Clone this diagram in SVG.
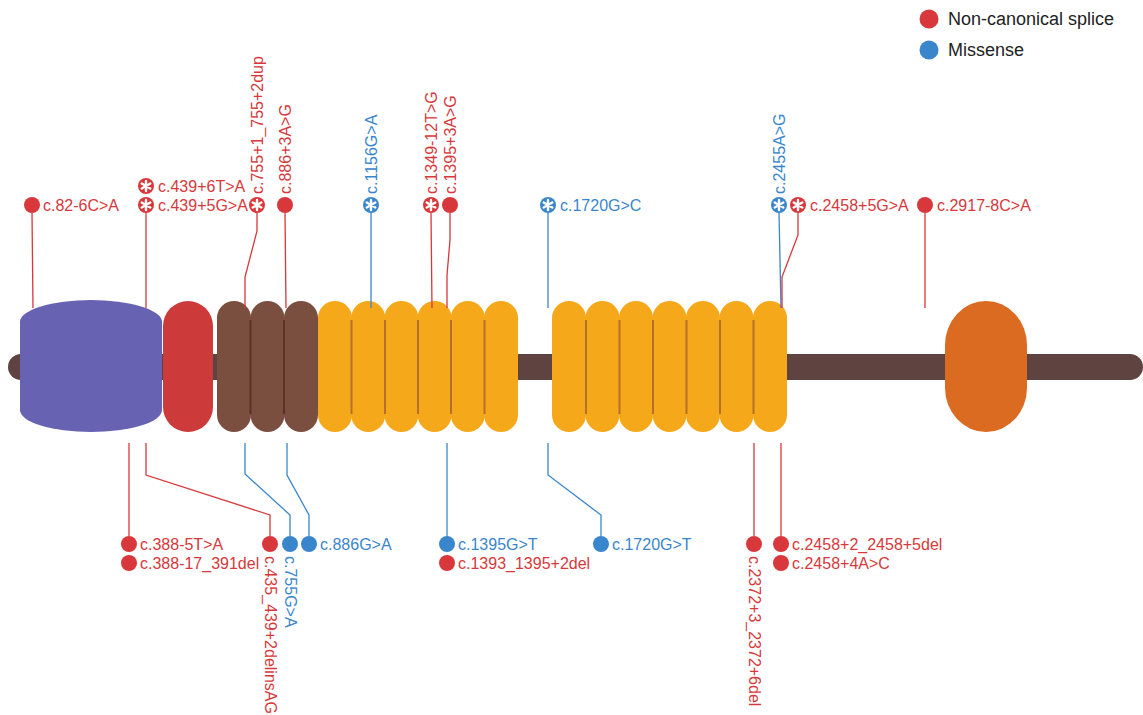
<svg xmlns="http://www.w3.org/2000/svg" xmlns:xlink="http://www.w3.org/1999/xlink" width="1143" height="715" viewBox="0 0 1143 715">
<style>
text{font-family:"Liberation Sans",Arial,sans-serif;font-size:16px}
.r{fill:#d8383b}.b{fill:#3a86cc}
.tr{fill:#d8383b}.tb{fill:#3a86cc}
.lr{stroke:#d8383b;stroke-width:1.3;fill:none}
.lb{stroke:#3a86cc;stroke-width:1.3;fill:none}
.leg{font-size:18px;fill:#222}
.y{fill:#f6a81b}.br{fill:#7b4f3f}
.dy{stroke:#b4702c;stroke-width:2}.db{stroke:#5a3226;stroke-width:2}
</style>
<defs>
<g id="star"><path d="M0,-5V5M-4.3,-2.5L4.3,2.5M-4.3,2.5L4.3,-2.5" stroke="#fff" stroke-width="2.4" stroke-linecap="round"/></g>
</defs>
<g id="legend">
<circle cx="929" cy="19" r="9.5" class="r"/><text x="948" y="25" class="leg">Non-canonical splice</text>
<circle cx="929" cy="50" r="9.5" class="b"/><text x="948" y="56" class="leg">Missense</text>
</g>
<g id="protein">
<rect id="backbone" x="8" y="354" width="1135" height="26" rx="13" fill="#5f4340"/>
<path id="domain-blue" d="M20,322 A71,22 0 0 1 162,322 V410 A71,22 0 0 1 20,410 Z" fill="#6763b2"/>
<rect id="domain-red" x="163" y="301" width="50" height="131" rx="25" fill="#cc3a3a"/>
<g id="domain-brown">
<rect x="217" y="301" width="34" height="131" rx="17" class="br"/>
<rect x="250.5" y="301" width="34" height="131" rx="17" class="br"/>
<rect x="284" y="301" width="34" height="131" rx="17" class="br"/>
<line x1="250.5" y1="320" x2="250.5" y2="414" class="db"/>
<line x1="284" y1="320" x2="284" y2="414" class="db"/>
</g>
<g id="domain-yellow1">
<rect x="318" y="301" width="34" height="131" rx="17" class="y"/>
<rect x="351.2" y="301" width="34" height="131" rx="17" class="y"/>
<rect x="384.4" y="301" width="34" height="131" rx="17" class="y"/>
<rect x="417.6" y="301" width="34" height="131" rx="17" class="y"/>
<rect x="450.8" y="301" width="34" height="131" rx="17" class="y"/>
<rect x="484" y="301" width="34" height="131" rx="17" class="y"/>
<line x1="351.5" y1="320" x2="351.5" y2="414" class="dy"/>
<line x1="385" y1="320" x2="385" y2="414" class="dy"/>
<line x1="418" y1="320" x2="418" y2="414" class="dy"/>
<line x1="451" y1="320" x2="451" y2="414" class="dy"/>
<line x1="484.5" y1="320" x2="484.5" y2="414" class="dy"/>
</g>
<g id="domain-yellow2">
<rect x="552" y="301" width="34" height="131" rx="17" class="y"/>
<rect x="585.5" y="301" width="34" height="131" rx="17" class="y"/>
<rect x="619" y="301" width="34" height="131" rx="17" class="y"/>
<rect x="652.5" y="301" width="34" height="131" rx="17" class="y"/>
<rect x="686" y="301" width="34" height="131" rx="17" class="y"/>
<rect x="719.5" y="301" width="34" height="131" rx="17" class="y"/>
<rect x="753" y="301" width="34" height="131" rx="17" class="y"/>
<line x1="586" y1="320" x2="586" y2="414" class="dy"/>
<line x1="619.5" y1="320" x2="619.5" y2="414" class="dy"/>
<line x1="653" y1="320" x2="653" y2="414" class="dy"/>
<line x1="686.5" y1="320" x2="686.5" y2="414" class="dy"/>
<line x1="720" y1="320" x2="720" y2="414" class="dy"/>
<line x1="753.5" y1="320" x2="753.5" y2="414" class="dy"/>
</g>
<rect id="domain-orange" x="945" y="301" width="82" height="131" rx="41" ry="44" fill="#dc6b22"/>
</g>
<g id="connectors">
<path class="lr" d="M32,213 L33,308"/>
<path class="lr" d="M146,213 V308"/>
<path class="lr" d="M257,213 V231 L245,277 V308"/>
<path class="lr" d="M285,213 L286,308"/>
<path class="lb" d="M371,213 V308"/>
<path class="lr" d="M431,213 L432,308"/>
<path class="lr" d="M450,213 V240 L447,275 V308"/>
<path class="lb" d="M548,213 V308"/>
<path class="lb" d="M779,213 L781,308"/>
<path class="lr" d="M798,213 V235 L782,277 V308"/>
<path class="lr" d="M925,213 V308"/>
<path class="lr" d="M129,443 V536"/>
<path class="lr" d="M146,443 V475 L270,515 V536"/>
<path class="lb" d="M245,443 V474 L290,515 V536"/>
<path class="lb" d="M287,443 V475 L309,515 V536"/>
<path class="lb" d="M447,443 V536"/>
<path class="lb" d="M548,443 V475 L601,515 V536"/>
<path class="lr" d="M754,443 V536"/>
<path class="lr" d="M781,443 V536"/>
</g>
<g id="top-variants">
<g id="v-82"><circle cx="32" cy="205" r="8" class="r"/><text x="43" y="211" class="tr">c.82-6C&gt;A</text></g>
<g id="v-439-6"><circle cx="146" cy="186" r="8" class="r"/><use xlink:href="#star" href="#star" x="146" y="186"/><text x="158" y="192" class="tr">c.439+6T&gt;A</text></g>
<g id="v-439-5"><circle cx="146" cy="205" r="8" class="r"/><use xlink:href="#star" href="#star" x="146" y="205"/><text x="158" y="211" class="tr">c.439+5G&gt;A</text></g>
<g id="v-755dup"><circle cx="257" cy="205" r="8" class="r"/><use xlink:href="#star" href="#star" x="257" y="205"/><text transform="translate(262.5,194) rotate(-90)" class="tr">c.755+1_755+2dup</text></g>
<g id="v-886-3"><circle cx="285" cy="205" r="8" class="r"/><text transform="translate(290.5,194) rotate(-90)" class="tr">c.886+3A&gt;G</text></g>
<g id="v-1156"><circle cx="371" cy="205" r="8" class="b"/><use xlink:href="#star" href="#star" x="371" y="205"/><text transform="translate(376.5,194) rotate(-90)" class="tb">c.1156G&gt;A</text></g>
<g id="v-1349"><circle cx="431" cy="205" r="8" class="r"/><use xlink:href="#star" href="#star" x="431" y="205"/><text transform="translate(436.5,194) rotate(-90)" class="tr">c.1349-12T&gt;G</text></g>
<g id="v-1395-3"><circle cx="450" cy="205" r="8" class="r"/><text transform="translate(455.5,194) rotate(-90)" class="tr">c.1395+3A&gt;G</text></g>
<g id="v-1720C"><circle cx="548" cy="205" r="8" class="b"/><use xlink:href="#star" href="#star" x="548" y="205"/><text x="560" y="211" class="tb">c.1720G&gt;C</text></g>
<g id="v-2455"><circle cx="779" cy="205" r="8" class="b"/><use xlink:href="#star" href="#star" x="779" y="205"/><text transform="translate(784.5,194) rotate(-90)" class="tb">c.2455A&gt;G</text></g>
<g id="v-2458-5"><circle cx="798" cy="205" r="8" class="r"/><use xlink:href="#star" href="#star" x="798" y="205"/><text x="810" y="211" class="tr">c.2458+5G&gt;A</text></g>
<g id="v-2917"><circle cx="925" cy="205" r="8" class="r"/><text x="937" y="211" class="tr">c.2917-8C&gt;A</text></g>
</g>
<g id="bottom-variants">
<g id="v-388-5"><circle cx="129" cy="544" r="8" class="r"/><text x="140" y="550" class="tr">c.388-5T&gt;A</text></g>
<g id="v-388-17"><circle cx="129" cy="563" r="8" class="r"/><text x="140" y="569" class="tr">c.388-17_391del</text></g>
<g id="v-435"><circle cx="270" cy="544" r="8" class="r"/><text transform="translate(264.5,556) rotate(90)" class="tr">c.435_439+2delinsAG</text></g>
<g id="v-755"><circle cx="290" cy="544" r="8" class="b"/><text transform="translate(284.5,556) rotate(90)" class="tb">c.755G&gt;A</text></g>
<g id="v-886"><circle cx="309" cy="544" r="8" class="b"/><text x="320" y="550" class="tb">c.886G&gt;A</text></g>
<g id="v-1395T"><circle cx="447" cy="544" r="8" class="b"/><text x="458" y="550" class="tb">c.1395G&gt;T</text></g>
<g id="v-1393"><circle cx="447" cy="563" r="8" class="r"/><text x="458" y="569" class="tr">c.1393_1395+2del</text></g>
<g id="v-1720T"><circle cx="601" cy="544" r="8" class="b"/><text x="612" y="550" class="tb">c.1720G&gt;T</text></g>
<g id="v-2372"><circle cx="754" cy="544" r="8" class="r"/><text transform="translate(748.5,556) rotate(90)" class="tr">c.2372+3_2372+6del</text></g>
<g id="v-2458-2"><circle cx="781" cy="544" r="8" class="r"/><text x="792" y="550" class="tr">c.2458+2_2458+5del</text></g>
<g id="v-2458-4"><circle cx="781" cy="563" r="8" class="r"/><text x="792" y="569" class="tr">c.2458+4A&gt;C</text></g>
</g>
</svg>
